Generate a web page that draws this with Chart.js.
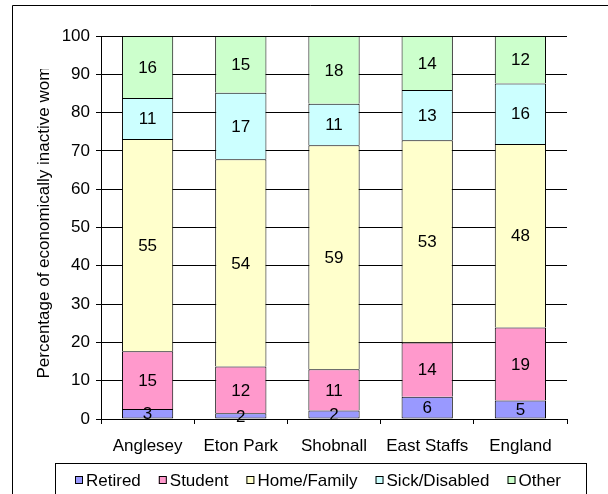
<!DOCTYPE html>
<html>
<head>
<meta charset="utf-8">
<title>Economically inactive women</title>
<script src="https://cdn.jsdelivr.net/npm/chart.js@4/dist/chart.umd.min.js"></script>
<style>
    body { margin: 0; background: #ffffff; }
    #wrap { width: 608px; height: 494px; }
</style>
</head>
<body>
<div id="wrap"><canvas id="chart" width="608" height="494"></canvas></div>
<script>
// Chart data (percent)
const categories = ['Anglesey', 'Eton Park', 'Shobnall', 'East Staffs', 'England'];
const retired = [2.6, 1.5, 2.2, 5.8, 4.8];
const student = [15.1, 12.2, 10.8, 14.2, 19.1];
const homeFamily = [55.4, 54.1, 58.5, 52.8, 47.9];
const sickDisabled = [10.7, 17.4, 10.8, 13.1, 15.8];
const other = [16.2, 14.8, 17.7, 14.1, 12.4];
const yTicks = [0, 10, 20, 30, 40, 50, 60, 70, 80, 90, 100];

const seriesNames = ['Retired', 'Student', 'Home/Family', 'Sick/Disabled', 'Other'];
const seriesColors = ['#9999FF', '#FF99CC', '#FFFFCC', '#CCFFFF', '#CCFFCC'];
const seriesData = [retired, student, homeFamily, sickDisabled, other];

const FONT = '"Liberation Sans", Arial, sans-serif';
Chart.defaults.font.family = FONT;
Chart.defaults.font.size = 17;
Chart.defaults.color = '#000000';

// Value labels centred in every segment
const segmentLabels = {
    id: 'segmentLabels',
    afterDatasetsDraw(chart) {
        const ctx = chart.ctx;
        ctx.save();
        ctx.font = '17px ' + FONT;
        ctx.fillStyle = '#000000';
        ctx.textAlign = 'center';
        ctx.textBaseline = 'middle';
        chart.data.datasets.forEach((ds, i) => {
            const meta = chart.getDatasetMeta(i);
            meta.data.forEach((bar, j) => {
                const mid = (bar.y + bar.base) / 2;
                ctx.fillText(String(Math.round(ds.data[j])), bar.x, mid + 1);
            });
        });
        ctx.restore();
    }
};

// Frame, clipped axis title and boxed legend
const decorations = {
    id: 'decorations',
    afterDraw(chart) {
        const ctx = chart.ctx;
        ctx.save();
        ctx.strokeStyle = '#000000';
        ctx.lineWidth = 1;

        // outer frame (only top and left visible)
        ctx.beginPath();
        ctx.moveTo(12.5, 500);
        ctx.lineTo(12.5, 5.5);
        ctx.lineTo(608, 5.5);
        ctx.stroke();

        // y axis title, clipped at the top like the original
        ctx.save();
        ctx.beginPath();
        ctx.rect(0, 69, 100, 430);
        ctx.clip();
        ctx.translate(48.5, 378.5);
        ctx.rotate(-Math.PI / 2);
        ctx.font = '17px ' + FONT;
        ctx.fillStyle = '#000000';
        ctx.textAlign = 'left';
        ctx.textBaseline = 'alphabetic';
        ctx.fillText('Percentage of economically inactive women', 0, 0);
        ctx.restore();

        // legend box
        ctx.strokeRect(55.5, 463.5, 531, 40);
        ctx.font = '17px ' + FONT;
        ctx.textBaseline = 'alphabetic';
        ctx.textAlign = 'left';
        let x = 75;
        seriesNames.forEach((name, i) => {
            ctx.fillStyle = seriesColors[i];
            ctx.fillRect(x, 476, 8, 8);
            ctx.strokeRect(x + 0.5, 476.5, 7, 7);
            ctx.fillStyle = '#000000';
            ctx.fillText(name, x + 11, 485.5);
            x += 11 + ctx.measureText(name).width + 18;
        });
        ctx.restore();
    }
};

const ctx = document.getElementById('chart').getContext('2d');
const chart = new Chart(ctx, {
    type: 'bar',
    data: {
        labels: categories,
        datasets: seriesData.map((values, i) => ({
            label: seriesNames[i],
            data: values,
            backgroundColor: seriesColors[i],
            borderColor: '#000000',
            borderWidth: { top: 1, left: 1, right: 1, bottom: i === 0 ? 1 : 0 },
            borderSkipped: false,
            categoryPercentage: 1.0,
            barPercentage: 0.55
        }))
    },
    options: {
        responsive: false,
        animation: false,
        layout: {
            padding: { top: 36, left: 0, right: 41, bottom: 0 }
        },
        plugins: {
            legend: { display: false },
            tooltip: { enabled: false }
        },
        scales: {
            x: {
                stacked: true,
                grid: {
                    offset: true,
                    drawOnChartArea: false,
                    drawTicks: true,
                    tickLength: 5,
                    color: '#000000'
                },
                border: { display: true, color: '#000000' },
                ticks: {
                    padding: 12,
                    color: '#000000',
                    font: { size: 17 },
                    maxRotation: 0
                },
                afterFit(scale) {
                    scale.height = 75;
                }
            },
            y: {
                stacked: true,
                min: 0,
                max: 100,
                afterBuildTicks(scale) {
                    scale.ticks = yTicks.map(v => ({ value: v }));
                },
                grid: {
                    color: '#000000',
                    drawTicks: true,
                    tickLength: 5
                },
                border: { display: true, color: '#000000' },
                ticks: {
                    padding: 6,
                    color: '#000000',
                    font: { size: 17 }
                },
                afterFit(scale) {
                    scale.width = 101;
                }
            }
        }
    },
    plugins: [segmentLabels, decorations]
});
</script>
</body>
</html>
